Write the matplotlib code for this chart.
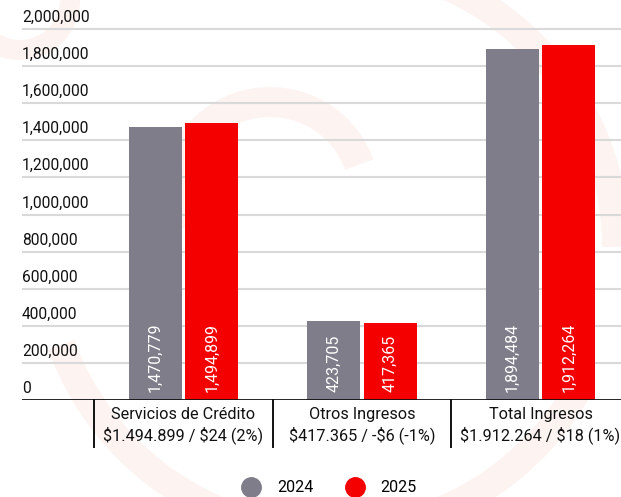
import matplotlib.pyplot as plt
from matplotlib.lines import Line2D
from matplotlib.patches import Wedge
import numpy as np

plt.rcParams['font.family'] = ['Roboto', 'DejaVu Sans']
plt.rcParams['text.parse_math'] = False

categories = ['Servicios de Crédito\n$1.494.899 / $24 (2%)',
              'Otros Ingresos\n$417.365 / -$6 (-1%)',
              'Total Ingresos\n$1.912.264 / $18 (1%)']
v2024 = [1470779, 423705, 1894484]
v2025 = [1494899, 417365, 1912264]
years = ['2024', '2025']
yticks = [0, 200000, 400000, 600000, 800000, 1000000, 1200000, 1400000,
          1600000, 1800000, 2000000]

gray = '#7e7d89'
red = '#f50000'

fig = plt.figure(figsize=(6.21, 4.97), dpi=100)

# faint watermark in the background
bg = fig.add_axes([0, 0, 1, 1], zorder=-5)
bg.set_xlim(0, 621)
bg.set_ylim(0, 497)
bg.axis('off')
wm = '#fdf4f2'
bg.add_patch(Wedge((330, 250), 300, 0, 95, width=28, color=wm, lw=0))
bg.add_patch(Wedge((330, 250), 300, 200, 330, width=28, color=wm, lw=0))
bg.add_patch(Wedge((270, 300), 110, 20, 200, width=30, color=wm, lw=0))
bg.add_patch(Wedge((20, 497), 60, 180, 360, width=20, color=wm, lw=0))

ax = fig.add_axes([22 / 621, 97 / 497, 1 - 22 / 621, 400 / 497])
ax.set_facecolor('none')
ax.set_xlim(-0.905, 2.451)
ax.set_ylim(0, 2156400)

x = np.arange(len(categories))
w = 0.297
ax.bar(x - w / 2 - 0.009, v2024, w, color=gray, zorder=3)
ax.bar(x + w / 2 + 0.009, v2025, w, color=red, zorder=3)

for i in range(len(categories)):
    ax.text(x[i] - w / 2 - 0.009, 45000, f'{v2024[i]:,}', rotation=90,
            ha='center', va='bottom', color='white', fontsize=11.5, zorder=4)
    ax.text(x[i] + w / 2 + 0.009, 45000, f'{v2025[i]:,}', rotation=90,
            ha='center', va='bottom', color='white', fontsize=11.5, zorder=4)

for t in yticks:
    if t > 0:
        ax.axhline(t, color='#d9d9d9', lw=1.5, zorder=1)
    ax.text(0.0, t + 22000, f'{t:,}', transform=ax.get_yaxis_transform(),
            ha='left', va='bottom', fontsize=11.2, color='#111111')

ax.axhline(0, color='#111111', lw=2, zorder=5)

for b in [-0.5, 0.5, 1.5, 2.5]:
    ax.plot([b, b], [0, -255000], color='#111111', lw=1.4, clip_on=False)

for i, c in enumerate(categories):
    ax.text(x[i], -40000, c, ha='center', va='top', fontsize=11.7,
            linespacing=1.25, color='#111111')

ax.set_xticks([])
ax.set_yticks([])
for s in ax.spines.values():
    s.set_visible(False)

handles = [Line2D([], [], marker='o', ls='', color=gray, markersize=14),
           Line2D([], [], marker='o', ls='', color=red, markersize=14)]
fig.legend(handles, years, loc='center', ncol=2, frameon=False,
           bbox_to_anchor=(326 / 621, 9 / 497), fontsize=11.5,
           handletextpad=0.6, columnspacing=1.6)

fig.savefig('out.png', dpi=100)
